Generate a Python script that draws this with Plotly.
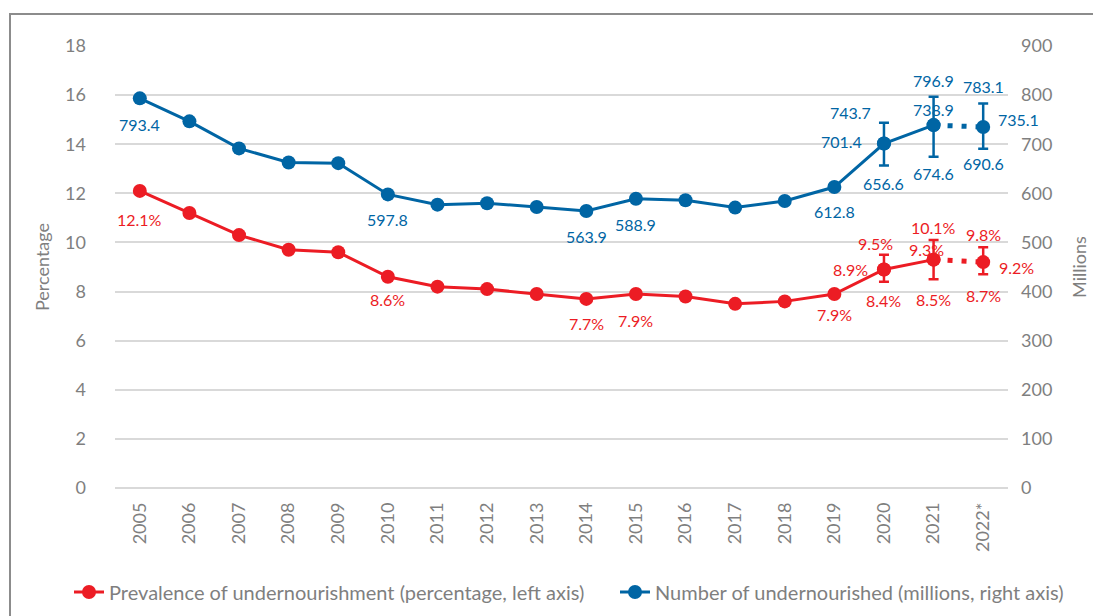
import plotly.graph_objects as go

# ---------------- data ----------------
years = ["2005", "2006", "2007", "2008", "2009", "2010", "2011", "2012", "2013",
         "2014", "2015", "2016", "2017", "2018", "2019", "2020", "2021", "2022*"]
prevalence = [12.1, 11.2, 10.3, 9.7, 9.6, 8.6, 8.2, 8.1, 7.9, 7.7, 7.9, 7.8, 7.5,
              7.6, 7.9, 8.9, 9.3, 9.2]
number = [793.4, 746.6, 691.5, 662.9, 661.5, 597.8, 577.0, 579.8, 572.3, 563.9,
          588.9, 586.0, 571.0, 584.5, 612.8, 701.4, 738.9, 735.1]
range_years = ["2020", "2021", "2022*"]
prevalence_low = [8.4, 8.5, 8.7]
prevalence_high = [9.5, 10.1, 9.8]
number_low = [656.6, 674.6, 690.6]
number_high = [743.7, 796.9, 783.1]
labelled_years = ["2005", "2010", "2014", "2015", "2019"]

RED = "#EC1C24"
BLUE = "#0065A4"
GRAY = "#7F7F7F"
GRID = "#D9D9D9"
FONT = "Lato"

fig = go.Figure()

n_solid = len(years) - 1  # through 2021
pou_range_vals = prevalence[-3:]
num_range_vals = number[-3:]


def add_series(vals, lows, highs, color, name, yaxis, legend):
    fig.add_trace(go.Scatter(
        x=years[:n_solid], y=vals[:n_solid], mode="lines+markers", name=name,
        line=dict(color=color, width=3), marker=dict(color=color, size=14),
        yaxis=yaxis, showlegend=True, legend=legend, cliponaxis=False))
    fig.add_trace(go.Scatter(
        x=years[n_solid - 1:], y=vals[n_solid - 1:], mode="lines",
        line=dict(color=color, width=5, dash="5px,9px"),
        yaxis=yaxis, showlegend=False, hoverinfo="skip"))
    rv = vals[-3:]
    fig.add_trace(go.Scatter(
        x=range_years, y=rv, mode="markers",
        marker=dict(color=color, size=14),
        error_y=dict(type="data", symmetric=False,
                     array=[h - v for h, v in zip(highs, rv)],
                     arrayminus=[v - l for l, v in zip(lows, rv)],
                     color=color, thickness=2.5, width=5),
        yaxis=yaxis, showlegend=False, hoverinfo="skip"))


add_series(prevalence, prevalence_low, prevalence_high, RED,
           "Prevalence of undernourishment (percentage, left axis)", "y", "legend")
add_series(number, number_low, number_high, BLUE,
           "Number of undernourished (millions, right axis)", "y2", "legend2")

annotations = []


def lab(year, y, text, color, yref, xshift=0, yshift=0, xanchor="center"):
    annotations.append(dict(x=years.index(year), y=y, xref="x", yref=yref, text=text,
                            showarrow=False, xshift=xshift, yshift=yshift,
                            xanchor=xanchor, yanchor="middle",
                            font=dict(family=FONT, size=16, color=color)))


fmt_p = lambda v: f"{v:.1f}%"
fmt_n = lambda v: f"{v:.1f}"

red_below_shift = [-29, -23, -25, -26, -20]
blue_below_shift = [-26, -25, -25, -26, -24]
for k, yr in enumerate(labelled_years):
    i = years.index(yr)
    lab(yr, prevalence[i], fmt_p(prevalence[i]), RED, "y", yshift=red_below_shift[k])
    lab(yr, number[i], fmt_n(number[i]), BLUE, "y2", yshift=blue_below_shift[k])

# range labels (2020, 2021, 2022*)
p_point = [dict(xshift=-14, yshift=0, xanchor="right"),
           dict(xshift=-7, yshift=10, xanchor="center"),
           dict(xshift=14, yshift=-5, xanchor="left")]
p_up = [dict(xshift=-8, yshift=11), dict(xshift=0, yshift=12), dict(xshift=0, yshift=13)]
p_lo = [dict(yshift=-19), dict(yshift=-20), dict(yshift=-21)]
n_point = [dict(xshift=-20, yshift=2, xanchor="right"),
           dict(xshift=0, yshift=16, xanchor="center"),
           dict(xshift=13, yshift=7, xanchor="left")]
n_up = [dict(xshift=-33, yshift=10), dict(xshift=0, yshift=16), dict(xshift=0, yshift=17)]
n_lo = [dict(yshift=-18), dict(yshift=-17), dict(yshift=-15)]

for k, yr in enumerate(range_years):
    lab(yr, pou_range_vals[k], fmt_p(pou_range_vals[k]), RED, "y", **p_point[k])
    lab(yr, prevalence_high[k], fmt_p(prevalence_high[k]), RED, "y", **p_up[k])
    lab(yr, prevalence_low[k], fmt_p(prevalence_low[k]), RED, "y", **p_lo[k])
    lab(yr, num_range_vals[k], fmt_n(num_range_vals[k]), BLUE, "y2", **n_point[k])
    lab(yr, number_high[k], fmt_n(number_high[k]), BLUE, "y2", **n_up[k])
    lab(yr, number_low[k], fmt_n(number_low[k]), BLUE, "y2", **n_lo[k])

# page body has an 8px margin; compensate so the picture lines up
OFF = 8
W, H = 1101 - OFF, 616 - OFF
L, T = 115 - OFF, 46 - OFF
R = W - (1008 - OFF)
B = H - (488 - OFF)
pw, ph = W - L - R, H - T - B


def px_x(abs_x):
    return (abs_x - OFF - L) / pw


legend_common = dict(orientation="h", yanchor="middle", y=(488 - 592) / ph,
                     xanchor="left", font=dict(family=FONT, size=20, color=GRAY),
                     bgcolor="rgba(0,0,0,0)", itemwidth=30)

fig.update_layout(
    width=W, height=H,
    margin=dict(l=L, r=R, t=T, b=B, autoexpand=False),
    paper_bgcolor="white", plot_bgcolor="white",
    font=dict(family=FONT, color=GRAY, size=18),
    xaxis=dict(type="category", range=[-0.5, len(years) - 0.5],
               tickangle=-90, showgrid=False, showline=False, zeroline=False,
               ticks="", tickfont=dict(size=18, color=GRAY), ticklabelstandoff=10),
    yaxis=dict(range=[0, 18], dtick=2, showgrid=True, gridcolor=GRID, gridwidth=2,
               zeroline=True, zerolinecolor=GRID, zerolinewidth=2,
               showline=False, ticks="", tickfont=dict(size=18, color=GRAY),
               ticklabelstandoff=28,
               title=dict(text="Percentage", font=dict(size=18, color=GRAY), standoff=10)),
    yaxis2=dict(range=[0, 900], dtick=100, overlaying="y", side="right",
                showgrid=False, zeroline=False, showline=False, ticks="",
                tickfont=dict(size=18, color=GRAY), ticklabelstandoff=12,
                title=dict(text="Millions", font=dict(size=18, color=GRAY), standoff=22)),
    legend=dict(x=px_x(69), **legend_common),
    legend2=dict(x=px_x(615), **legend_common),
    annotations=annotations,
    shapes=[dict(type="rect", xref="paper", yref="paper",
                 x0=(10 - OFF - L) / pw, x1=1.3, y0=-0.6,
                 y1=1 + (T - (14 - OFF)) / ph,
                 line=dict(color="#8C8C8C", width=2), fillcolor="rgba(0,0,0,0)",
                 layer="below")],
    showlegend=True,
)

fig.write_html("out.html")
